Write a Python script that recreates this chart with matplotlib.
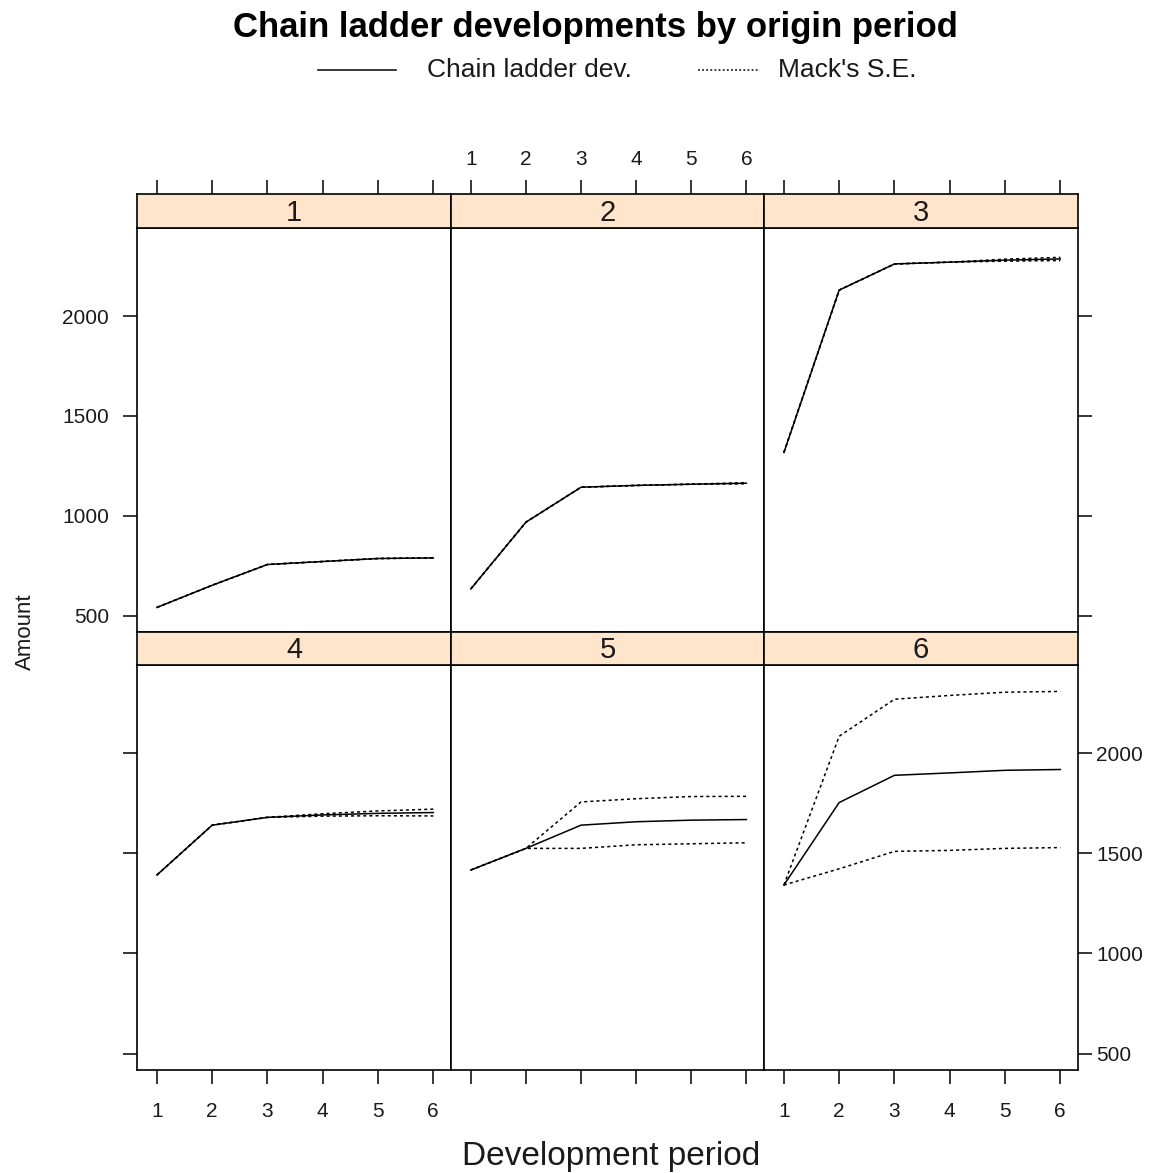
import matplotlib
matplotlib.use('Agg')
import matplotlib.pyplot as plt
from matplotlib.lines import Line2D

plt.rcParams['font.family'] = ['Liberation Sans', 'DejaVu Sans']

# development periods and origin periods
dev = [1, 2, 3, 4, 5, 6]
origins = ['1', '2', '3', '4', '5', '6']

# chain ladder developments per origin period
cl_1 = [541, 652, 756, 771, 786, 789]
cl_2 = [634, 968, 1143, 1152, 1158, 1163]
cl_3 = [1317, 2130, 2261, 2270, 2280, 2286]
cl_4 = [1392, 1641, 1680, 1692, 1700, 1704]
cl_5 = [1417, 1525, 1641, 1658, 1666, 1669]
cl_6 = [1342, 1754, 1890, 1902, 1915, 1919]

# Mack's standard errors per origin period
se_1 = [0, 0, 0, 0, 0, 0]
se_2 = [0, 0, 0, 0, 0, 3]
se_3 = [0, 0, 0, 0, 5, 8]
se_4 = [0, 0, 0, 6, 12, 17]
se_5 = [0, 0, 116, 115, 118, 116]
se_6 = [0, 331, 380, 387, 390, 390]

y_ticks = [500, 1000, 1500, 2000]

cl_all = [cl_1, cl_2, cl_3, cl_4, cl_5, cl_6]
se_all = [se_1, se_2, se_3, se_4, se_5, se_6]

W, H = 1162, 1173
fig = plt.figure(figsize=(W / 100, H / 100), dpi=100)

def box(x0, y0, x1, y1):
    return [x0 / W, 1 - y1 / H, (x1 - x0) / W, (y1 - y0) / H]

col_x = [137, 451, 764, 1078]
panel_y = [(228, 632), (665, 1070)]
strip_y = [(194, 228), (632, 665)]

xlim = (0.64, 6.32)
ylim = (418, 2441)
txt = '#1a1a1a'
dotted = (0, (2, 2))
frame_lw = 1.2

for i in range(6):
    r, c = divmod(i, 3)
    ax = fig.add_axes(box(col_x[c], panel_y[r][0], col_x[c + 1], panel_y[r][1]))
    st = fig.add_axes(box(col_x[c], strip_y[r][0], col_x[c + 1], strip_y[r][1]))

    cl = cl_all[i]
    se = se_all[i]
    upper = [v + s for v, s in zip(cl, se)]
    lower = [v - s for v, s in zip(cl, se)]
    ax.plot(dev, upper, color='black', lw=1.1, linestyle=dotted)
    ax.plot(dev, lower, color='black', lw=1.1, linestyle=dotted)
    ax.plot(dev, cl, color='black', lw=1.1)

    ax.set_xlim(xlim)
    ax.set_ylim(ylim)
    for s in ax.spines.values():
        s.set_linewidth(frame_lw)

    # strip with origin period
    st.set_xlim(xlim)
    st.set_ylim(0, 1)
    st.set_facecolor('#ffe5cc')
    for s in st.spines.values():
        s.set_linewidth(frame_lw)
    st.text(0.5, 0.45, origins[i], transform=st.transAxes, ha='center',
            va='center', fontsize=21, color=txt)
    st.set_yticks([])

    # x axis: ticks top on first row strips, bottom on second row
    ax.set_xticks(dev)
    st.set_xticks(dev)
    if r == 0:
        ax.tick_params(axis='x', bottom=False, labelbottom=False)
        st.tick_params(axis='x', direction='out', top=True, bottom=False,
                       labelbottom=False, labeltop=(c == 1), length=10,
                       width=1.1, pad=8, labelsize=15, labelcolor=txt)
    else:
        st.tick_params(axis='x', bottom=False, labelbottom=False)
        ax.tick_params(axis='x', direction='out', bottom=True,
                       labelbottom=(c != 1), length=10, width=1.1, pad=13,
                       labelsize=15, labelcolor=txt)

    # y axis: left labels on top row, right labels on bottom row
    ax.set_yticks(y_ticks)
    ax.tick_params(axis='y', direction='out', left=(c == 0), right=(c == 2),
                   labelleft=(c == 0 and r == 0),
                   labelright=(c == 2 and r == 1),
                   length=10, width=1.1, labelsize=15, labelcolor=txt)
    if c == 0:
        ax.tick_params(axis='y', pad=10)
    if c == 2:
        ax.tick_params(axis='y', pad=3)

fig.text(595 / W, 1 - 27 / H, 'Chain ladder developments by origin period',
         ha='center', va='center', fontsize=25, fontweight='bold', color='black')

# legend row
ly = 1 - 70 / H
fig.add_artist(Line2D([318 / W, 396 / W], [ly, ly], color='black', lw=1.1))
fig.text(427 / W, ly, 'Chain ladder dev.', ha='left', va='center',
         fontsize=19, color=txt)
fig.add_artist(Line2D([698 / W, 760 / W], [ly, ly], color='black', lw=1.1,
                      linestyle=(0, (1.2, 1.5))))
fig.text(778 / W, ly, "Mack's S.E.", ha='left', va='center',
         fontsize=19, color=txt)

fig.text(611 / W, 1 - 1157 / H, 'Development period', ha='center',
         va='center', fontsize=24, color=txt)
fig.text(25 / W, 1 - 632 / H, 'Amount', ha='center', va='center',
         rotation=90, fontsize=16, color=txt)

fig.savefig('out.png', dpi=100)
